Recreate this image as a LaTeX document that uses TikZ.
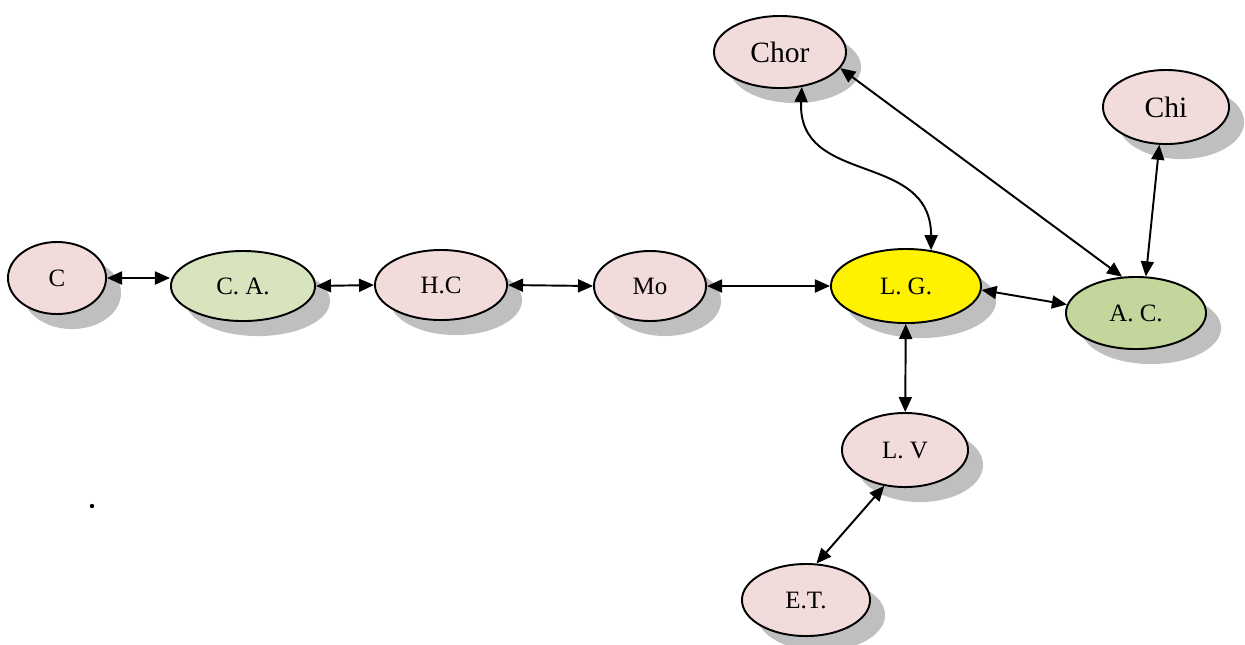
\documentclass[tikz,border=0pt]{standalone}
\usepackage{fontspec}
\setmainfont{Liberation Serif}
\usetikzlibrary{shapes.geometric,shadows,arrows.meta}
\definecolor{rosy}{HTML}{F2DCDB}
\definecolor{sage}{HTML}{D7E4BD}
\definecolor{olive}{HTML}{C3D69B}
\definecolor{shade}{HTML}{BFBFBF}

\begin{document}
\begin{tikzpicture}[x=0.01cm, y=-0.01cm,
	state/.style={ellipse, draw, line width=0.55pt, fill=rosy, inner sep=0pt,
		drop shadow={shadow xshift=0.15cm, shadow yshift=-0.15cm, fill=shade, opacity=1},
		font=\fontsize{7.1}{8}\selectfont},
	big/.style={font=\fontsize{8.4}{10}\selectfont},
	link/.style={{Triangle[length=1.5mm,width=1.3mm]}-{Triangle[length=1.5mm,width=1.3mm]}, line width=0.55pt}]
		\useasboundingbox (0,0) rectangle (1245,644);

		% main row
		\node[state, minimum width=0.98cm, minimum height=0.72cm] (C) at (57,278) {C};
		\node[state, fill=sage, minimum width=1.44cm, minimum height=0.70cm] (CA) at (243,286) {C. A.};
		\node[state, minimum width=1.32cm, minimum height=0.70cm] (HC) at (441,285) {H.C};
		\node[state, minimum width=1.12cm, minimum height=0.70cm] (Mo) at (650,286) {Mo};
		\node[state, fill=yellow, minimum width=1.50cm, minimum height=0.74cm] (LG) at (906,286) {L. G.};
		\node[state, fill=olive, minimum width=1.40cm, minimum height=0.72cm] (AC) at (1136,313) {A. C.};

		% upper and lower nodes
		\node[state, big, minimum width=1.32cm, minimum height=0.72cm] (Chor) at (780,52) {Chor};
		\node[state, big, minimum width=1.26cm, minimum height=0.74cm] (Chi) at (1166,107) {Chi};
		\node[state, minimum width=1.26cm, minimum height=0.74cm] (LV) at (905,450) {L. V};
		\node[state, minimum width=1.28cm, minimum height=0.72cm] (ET) at (806,600) {E.T.};

		\fill (92,506) circle[radius=0.022cm];

		\draw[link] (C.east) -- (C.east -| CA.west);
		\draw[link] (CA.east) -- (HC.west);
		\draw[link] (HC.east) -- (Mo.west);
		\draw[link] (Mo.east) -- (LG.west);
		\draw[link] (LG.-3) -- (AC.173);
		\draw[link] (LG) -- (LV);
		\draw[link] (LV.240) -- (ET.74);
		\draw[link] (Chor.-15) -- (AC.111);
		\draw[link] (Chi.260) -- (AC.75);
		\draw[link] (Chor.-58) .. controls +(-5,100) and +(0,-100) .. (LG.55);
\end{tikzpicture}
\end{document}
